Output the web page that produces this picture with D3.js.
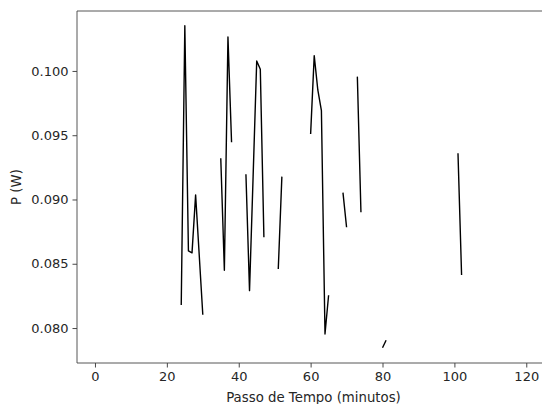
<!DOCTYPE html>
<html>
<head>
<meta charset="utf-8">
<script src="https://cdn.jsdelivr.net/npm/d3@7"></script>
<style>
body{margin:0;background:#fff;overflow:hidden;}
svg{display:block;}
text{font-family:"DejaVu Sans",sans-serif;fill:#262626;}
</style>
</head>
<body>
<svg id="chart" width="542" height="404"></svg>
<script>
// passo de tempo (min) e potencia (W), null = sem dado (quebra a linha)
var steps = [24,25,26,27,28,29,30,31, 35,36,37,38,39, 42,43,44,45,46,47,48, 51,52,53,
             60,61,62,63,64,65,66, 69,70,71, 73,74,75, 80,81,82, 101,102];
var power = [0.0818,0.10352,0.0860,0.08585,0.09036,0.0857,0.08103,null,
             0.09321,0.08450,0.10264,0.09445,null,
             0.09196,0.08291,0.0918,0.10078,0.10013,0.08706,null,
             0.08460,0.09178,null,
             0.09510,0.10119,0.09852,0.09691,0.07954,0.08255,null,
             0.09053,0.08784,null,
             0.09956,0.08901,null,
             0.07847,0.07905,null,
             0.09360,0.08413];
var xTicks = [0,20,40,60,80,100,120];
var yTicks = [0.080,0.085,0.090,0.095,0.100];

var svg = d3.select("#chart");
var W = 542;
var pL=77, pR=550, pT=11, pB=363;

var x = d3.scaleLinear().domain([-5,126.6]).range([pL,pR]);
var y = d3.scaleLinear().domain([0.07728,0.104664]).range([pB,pT]);

var data = steps.map(function(s,i){return {s:s,p:power[i]};});

var line = d3.line()
    .defined(function(d){return d.p!==null;})
    .x(function(d){return x(d.s);})
    .y(function(d){return y(d.p);});

svg.append("path").datum(data)
    .attr("d",line)
    .style("fill","none")
    .style("stroke","#000")
    .style("stroke-width",1.4)
    .style("stroke-linejoin","round");

// eixos
var gx = svg.append("g").attr("transform","translate(0,"+pB+")")
    .call(d3.axisBottom(x).tickValues(xTicks).tickFormat(d3.format("d")).tickSize(4.5).tickPadding(4));
var gy = svg.append("g").attr("transform","translate("+pL+",0)")
    .call(d3.axisLeft(y).tickValues(yTicks).tickFormat(d3.format(".3f")).tickSize(4.5).tickPadding(4));

[gx,gy].forEach(function(g){
    g.select(".domain").remove();
    g.selectAll("line").style("stroke","#333").style("stroke-width",0.9);
    g.selectAll("text").style("font-size","13px").style("font-family","DejaVu Sans").style("fill","#262626");
});

// bordas (a da direita fica fora da figura)
var xEnd = Math.min(pR, W+2);
var spines = [[pL,pT,pL,pB],[pL,pB,xEnd,pB],[pL,pT,xEnd,pT]];
svg.selectAll(".spine").data(spines).enter().append("line")
    .attr("class","spine")
    .attr("x1",function(d){return d[0];}).attr("y1",function(d){return d[1];})
    .attr("x2",function(d){return d[2];}).attr("y2",function(d){return d[3];})
    .style("stroke","#444").style("stroke-width",0.9);

svg.append("text").attr("x",(pL+pR)/2).attr("y",401.5)
    .attr("text-anchor","middle").style("font-size","13.3px")
    .text("Passo de Tempo (minutos)");

svg.append("text").attr("transform","translate(21,"+((pT+pB)/2)+") rotate(-90)")
    .attr("text-anchor","middle").style("font-size","13.3px")
    .text("P (W)");
</script>
</body>
</html>
